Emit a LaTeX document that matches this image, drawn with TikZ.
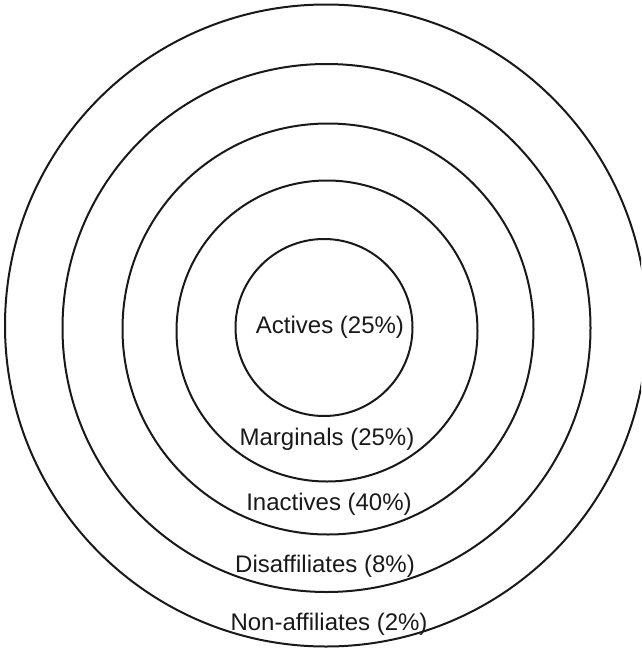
\documentclass[tikz,border=0pt]{standalone}
\usepackage{fontspec}
\setmainfont{Liberation Sans}
\begin{document}
\begin{tikzpicture}[x=1pt,y=-1pt,
  ring/.style={draw=black!90,line width=2pt},
  lbl/.style={font=\fontsize{24}{28}\selectfont,anchor=base,inner sep=0pt,text=black!90}]
\useasboundingbox (0,0) rectangle (641,648);
\clip (0,0) rectangle (641,648);
\draw[ring] (326,325.5) circle[radius=321];
\draw[ring] (326.5,328) circle[radius=264];
\draw[ring] (328,329) circle[radius=205.5];
\draw[ring] (327,331) circle[radius=150.5];
\draw[ring] (324,327.5) circle[radius=88.5];
\node[lbl] (act) at (330,333) {Actives (25\%)};
\node[lbl] (mar) at (327,445) {Marginals (25\%)};
\node[lbl] (ina) at (329,510) {Inactives (40\%)};
\node[lbl] (dis) at (325,572) {Disaffiliates (8\%)};
\node[lbl] (non) at (329,630) {Non-affiliates (2\%)};
\end{tikzpicture}
\end{document}
